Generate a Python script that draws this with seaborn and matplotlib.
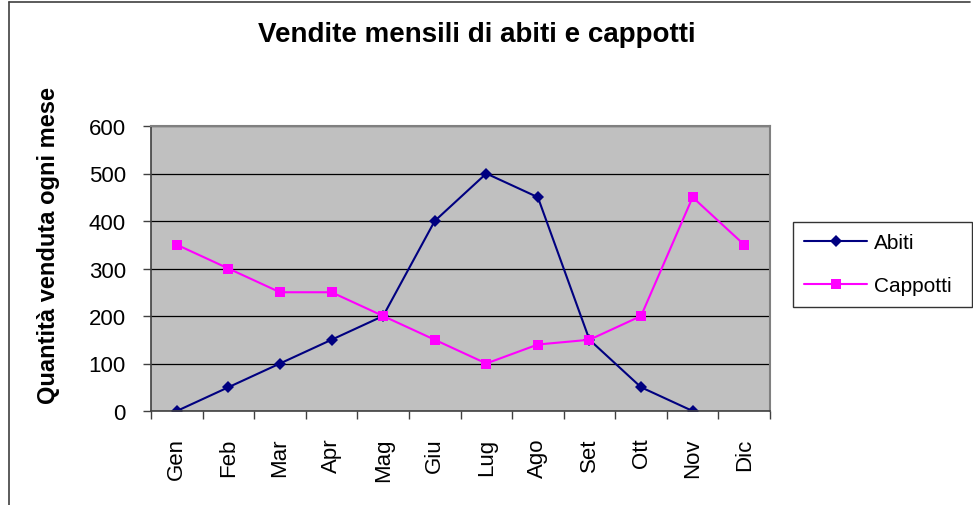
import numpy as np
import pandas as pd
import matplotlib
matplotlib.use("Agg")
import matplotlib.pyplot as plt
from matplotlib.lines import Line2D
import seaborn as sns

# Data
mesi = ['Gen', 'Feb', 'Mar', 'Apr', 'Mag', 'Giu', 'Lug', 'Ago', 'Set', 'Ott', 'Nov', 'Dic']
abiti = [0, 50, 100, 150, 200, 400, 500, 450, 150, 50, 0, np.nan]
cappotti = [350, 300, 250, 250, 200, 150, 100, 140, 150, 200, 450, 350]
y_ticks = [0, 100, 200, 300, 400, 500, 600]

sns.set_theme(style="white")
plt.rcParams['font.family'] = ['Liberation Sans', 'DejaVu Sans']
plt.rcParams['text.color'] = 'black'
plt.rcParams['xtick.color'] = 'black'
plt.rcParams['ytick.color'] = 'black'
plt.rcParams['axes.labelcolor'] = 'black'

df = pd.DataFrame({'Mese': mesi, 'Abiti': abiti, 'Cappotti': cappotti})
df_melted = pd.melt(df, id_vars='Mese', value_vars=['Abiti', 'Cappotti'],
                    var_name='Serie', value_name='Quantità')

fig = plt.figure(figsize=(9.73, 5.06), dpi=100)
ax = fig.add_axes([151 / 973, 94 / 506, 619 / 973, 285 / 506])
ax.set_facecolor('#C0C0C0')

palette = {'Abiti': '#000080', 'Cappotti': '#FF00FF'}
markers = {'Abiti': 'D', 'Cappotti': 's'}
sns.lineplot(data=df_melted, x='Mese', y='Quantità', hue='Serie', style='Serie',
             palette=palette, markers=markers, dashes=False, sort=False,
             estimator=None, linewidth=1.5, ax=ax, legend=False)
for line in ax.get_lines():
    if line.get_marker() == 'D':
        line.set_markersize(6)
    else:
        line.set_markersize(7.5)
    line.set_markeredgewidth(0)

ax.set_xlim(-0.5, len(mesi) - 0.5)
ax.set_ylim(0, 600)
ax.set_yticks(y_ticks)
ax.set_xticks(range(len(mesi)))
ax.set_xticklabels(mesi, rotation=90, fontsize=16)
ax.set_xticks(np.arange(-0.5, len(mesi), 1), minor=True)
ax.tick_params(axis='x', which='major', length=0, pad=19)
ax.tick_params(axis='x', which='minor', length=6, width=1, color='#404040', direction='out', bottom=True)
ax.tick_params(axis='y', labelsize=16, length=6, width=1, color='#404040', direction='out', left=True, pad=12)

ax.yaxis.grid(True, color='black', linewidth=0.9)
ax.set_axisbelow(True)
for side in ['top', 'right']:
    ax.spines[side].set_color('#808080')
    ax.spines[side].set_linewidth(1.5)
for side in ['left', 'bottom']:
    ax.spines[side].set_color('#404040')
    ax.spines[side].set_linewidth(1.2)

ax.set_xlabel('')
ax.set_ylabel('Quantità venduta ogni mese', fontsize=17, fontweight='bold')
ax.yaxis.set_label_coords(-0.147, 0.583)

fig.text(477 / 973, 1 - 35 / 506, 'Vendite mensili di abiti e cappotti',
         ha='center', va='center', fontsize=20, fontweight='bold')

handles = [Line2D([], [], color='#000080', marker='D', markersize=6, markeredgewidth=0, linewidth=1.5),
           Line2D([], [], color='#FF00FF', marker='s', markersize=7.5, markeredgewidth=0, linewidth=1.5)]
leg = fig.legend(handles, ['Abiti', 'Cappotti'], loc='upper left',
                 bbox_to_anchor=(793 / 973, 1 - 312 / 506, 179 / 973, 89 / 506), mode='expand',
                 fontsize=15, frameon=True, fancybox=False, edgecolor='black',
                 labelspacing=1.15, handlelength=3.0, handletextpad=0.35,
                 borderpad=0.55, borderaxespad=0)
leg.get_frame().set_linewidth(1)

# outer chart border (left and top edges visible)
fig.add_artist(Line2D([8.5 / 973, 8.5 / 973], [0, 1 - 2.5 / 506], color='#404040', linewidth=1.2,
                      transform=fig.transFigure))
fig.add_artist(Line2D([8.5 / 973, 970 / 973], [1 - 2.5 / 506, 1 - 2.5 / 506], color='#404040',
                      linewidth=1.2, transform=fig.transFigure))

fig.savefig('out.png', dpi=100)
plt.close(fig)
